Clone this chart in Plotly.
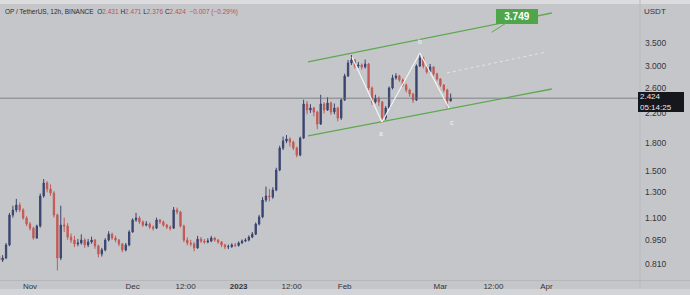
import math
import pandas as pd
import plotly.graph_objects as go

# ---------------- data (daily candles) ----------------
dates = pd.date_range('2022-10-23', periods=133, freq='D')

opens = [
    0.850, 0.831, 0.842, 0.918, 1.119, 1.157, 1.196, 1.157, 1.097, 1.054,
    1.026, 0.961, 1.040, 1.269, 1.383, 1.329, 1.294, 1.119, 0.842, 1.047,
    1.040, 0.967, 0.948, 0.924, 0.930, 0.948, 0.918, 0.936, 0.948, 0.912,
    0.865, 0.888, 0.948, 0.986, 0.961, 0.948, 0.924, 0.888, 0.918, 1.000,
    1.083, 1.097, 1.069, 1.047, 1.054, 1.033, 1.026, 1.083, 1.069, 1.047,
    1.033, 1.026, 1.157, 1.142, 1.040, 0.948, 0.930, 0.924, 0.900, 0.954,
    0.942, 0.936, 0.942, 0.961, 0.948, 0.936, 0.918, 0.906, 0.908, 0.918,
    0.915, 0.930, 0.942, 0.948, 0.967, 0.986, 1.054, 1.105, 1.236, 1.269,
    1.261, 1.320, 1.507, 1.743, 1.826, 1.850, 1.814, 1.743, 1.664, 1.862,
    2.332, 2.242, 2.272, 2.213, 2.043, 2.332, 2.242, 2.348, 2.213, 2.272,
    2.126, 2.395, 2.808, 3.059, 3.122, 2.999, 3.019, 2.979, 3.039, 2.593,
    2.364, 2.427, 2.364, 2.126, 2.272, 2.593, 2.772, 2.808, 2.734, 2.645,
    2.559, 2.492, 2.395, 2.999, 3.164, 2.999, 2.884, 2.979, 2.846, 2.752,
    2.645, 2.559, 2.379,
]
highs = [
    0.862, 0.858, 0.930, 1.135, 1.190, 1.245, 1.215, 1.170, 1.110, 1.068,
    1.035, 1.050, 1.290, 1.420, 1.400, 1.370, 1.310, 1.130, 1.190, 1.100,
    1.060, 0.990, 0.975, 0.955, 0.985, 0.960, 0.955, 0.970, 0.955, 0.920,
    0.900, 0.960, 1.005, 0.995, 0.975, 0.955, 0.930, 0.930, 1.012, 1.095,
    1.135, 1.110, 1.080, 1.075, 1.065, 1.045, 1.100, 1.090, 1.078, 1.055,
    1.045, 1.180, 1.175, 1.150, 1.050, 0.965, 0.950, 0.935, 0.975, 0.968,
    0.955, 0.960, 0.975, 0.968, 0.955, 0.942, 0.925, 0.920, 0.928, 0.930,
    0.940, 0.952, 0.960, 0.978, 1.000, 1.065, 1.120, 1.260, 1.350, 1.330,
    1.345, 1.530, 1.770, 1.880, 1.900, 1.870, 1.830, 1.760, 1.880, 2.400,
    2.380, 2.330, 2.290, 2.230, 2.480, 2.360, 2.440, 2.370, 2.340, 2.290,
    2.420, 2.850, 3.120, 3.226, 3.140, 3.080, 3.050, 3.130, 3.060, 2.620,
    2.480, 2.450, 2.380, 2.300, 2.620, 2.830, 2.860, 2.830, 2.760, 2.670,
    2.580, 2.510, 3.030, 3.260, 3.190, 3.020, 3.040, 3.000, 2.870, 2.770,
    2.660, 2.580, 2.500,
]
lows = [
    0.815, 0.820, 0.836, 0.910, 1.100, 1.140, 1.140, 1.085, 1.040, 1.010,
    0.950, 0.955, 1.030, 1.255, 1.300, 1.270, 1.100, 0.775, 0.830, 1.000,
    0.950, 0.930, 0.905, 0.910, 0.920, 0.900, 0.905, 0.925, 0.895, 0.845,
    0.850, 0.880, 0.940, 0.950, 0.935, 0.910, 0.875, 0.880, 0.910, 0.995,
    1.070, 1.055, 1.035, 1.038, 1.020, 1.010, 1.020, 1.055, 1.035, 1.020,
    1.010, 1.020, 1.125, 1.030, 0.935, 0.915, 0.910, 0.880, 0.895, 0.930,
    0.925, 0.928, 0.935, 0.938, 0.925, 0.905, 0.893, 0.893, 0.900, 0.905,
    0.908, 0.925, 0.935, 0.940, 0.960, 0.980, 1.045, 1.095, 1.220, 1.225,
    1.245, 1.310, 1.495, 1.720, 1.800, 1.760, 1.720, 1.640, 1.650, 1.850,
    2.180, 2.200, 2.150, 1.975, 2.030, 2.190, 2.230, 2.170, 2.180, 2.080,
    2.100, 2.380, 2.790, 3.020, 2.950, 2.960, 2.930, 2.950, 2.560, 2.320,
    2.340, 2.300, 2.060, 2.100, 2.260, 2.570, 2.740, 2.700, 2.610, 2.520,
    2.450, 2.350, 2.380, 2.980, 2.950, 2.850, 2.860, 2.810, 2.720, 2.610,
    2.520, 2.280, 2.376,
]
closes = [
    0.831, 0.842, 0.918, 1.119, 1.157, 1.196, 1.157, 1.097, 1.054, 1.026,
    0.961, 1.040, 1.269, 1.383, 1.329, 1.294, 1.119, 0.842, 1.047, 1.040,
    0.967, 0.948, 0.924, 0.930, 0.948, 0.918, 0.936, 0.948, 0.912, 0.865,
    0.888, 0.948, 0.986, 0.961, 0.948, 0.924, 0.888, 0.918, 1.000, 1.083,
    1.097, 1.069, 1.047, 1.054, 1.033, 1.026, 1.083, 1.069, 1.047, 1.033,
    1.026, 1.157, 1.142, 1.040, 0.948, 0.930, 0.924, 0.900, 0.954, 0.942,
    0.936, 0.942, 0.961, 0.948, 0.936, 0.918, 0.906, 0.908, 0.918, 0.915,
    0.930, 0.942, 0.948, 0.967, 0.986, 1.054, 1.105, 1.236, 1.269, 1.261,
    1.320, 1.507, 1.743, 1.826, 1.850, 1.814, 1.743, 1.664, 1.862, 2.332,
    2.242, 2.272, 2.213, 2.043, 2.332, 2.242, 2.348, 2.213, 2.272, 2.126,
    2.395, 2.808, 3.059, 3.122, 2.999, 3.019, 2.979, 3.039, 2.593, 2.364,
    2.427, 2.364, 2.126, 2.272, 2.593, 2.772, 2.808, 2.734, 2.645, 2.559,
    2.492, 2.395, 2.999, 3.164, 2.999, 2.884, 2.979, 2.846, 2.752, 2.645,
    2.559, 2.379, 2.424,
]

# drawings on the chart
upper_x = ['2023-01-21 07:00', '2023-04-02 14:00']
upper_y = [3.081, 4.259]
lower_x = ['2023-01-21 07:00', '2023-04-02 14:00']
lower_y = [1.888, 2.576]
zigzag_x = ['2023-02-03 03:30', '2023-02-11 22:00', '2023-02-23 00:00', '2023-03-03 12:00']
zigzag_y = [3.184, 2.070, 3.269, 2.272]
dotted_x = ['2023-03-02 22:00', '2023-04-01 00:00']
dotted_y = [2.865, 3.290]
wave_labels = ['a', 'b', 'c']
wave_x = ['2023-02-11 14:00', '2023-02-23 00:00', '2023-03-04 09:00']
wave_y = [1.913, 3.539, 2.070]
target_price = 3.749
target_x = '2023-03-16 00:00'
last_price = 2.424
countdown = '05:14:25'

x_range = ['2022-10-23 05:30', '2023-04-28 08:40']
x_tickvals = ['2022-11-01', '2022-12-01', '2022-12-16 12:00', '2023-01-01',
              '2023-01-16 12:00', '2023-02-01', '2023-03-01', '2023-03-16 12:00', '2023-04-01']
x_ticktext = ['Nov', 'Dec', '12:00', '<b>2023</b>', '12:00', 'Feb', 'Mar', '12:00', 'Apr']
y_tickvals = [0.81, 0.95, 1.1, 1.3, 1.5, 1.8, 2.2, 2.6, 3.0, 3.5]
y_ticktext = ['0.810', '0.950', '1.100', '1.300', '1.500', '1.800', '2.200', '2.600', '3.000', '3.500']

# ---------------- styling ----------------
BG = '#c5c6ca'
UP = '#3a4570'
DN = '#c25a55'
GREEN = '#5ea94f'
TXT = '#34353a'
FONT = 'Liberation Sans, Arial, sans-serif'

fig = go.Figure()

fig.add_trace(go.Scatter(x=x_range, y=[last_price, last_price], mode='lines',
                         line=dict(color='#707177', width=0.8), hoverinfo='skip'))

fig.add_trace(go.Candlestick(
    x=dates, open=opens, high=highs, low=lows, close=closes,
    increasing=dict(line=dict(color=UP, width=1), fillcolor=UP),
    decreasing=dict(line=dict(color=DN, width=1), fillcolor=DN),
    whiskerwidth=0, hoverinfo='skip'))

fig.add_trace(go.Scatter(x=upper_x, y=upper_y, mode='lines',
                         line=dict(color=GREEN, width=1.3), hoverinfo='skip'))
fig.add_trace(go.Scatter(x=lower_x, y=lower_y, mode='lines',
                         line=dict(color=GREEN, width=1.3), hoverinfo='skip'))
fig.add_trace(go.Scatter(x=dotted_x, y=dotted_y, mode='lines',
                         line=dict(color='#e4e4e6', width=1, dash='dot'), hoverinfo='skip'))
fig.add_trace(go.Scatter(x=zigzag_x, y=zigzag_y, mode='lines',
                         line=dict(color='#f4f4f4', width=1.2), hoverinfo='skip'))

annotations = []
for t, xx, yy in zip(wave_labels, wave_x, wave_y):
    annotations.append(dict(x=xx, y=math.log10(yy), xref='x', yref='y', text=t,
                            showarrow=False, font=dict(size=7, color='#f2f2f2', family=FONT)))

annotations.append(dict(
    x=target_x, y=math.log10(target_price), xref='x', yref='y',
    text='<b>%.3f</b>' % target_price, showarrow=True, arrowhead=0, arrowwidth=1,
    arrowcolor=GREEN, ax=25, ay=-16, bgcolor='#4fa64a', bordercolor='#4fa64a',
    borderpad=1, width=38, height=11, font=dict(size=10, color='white', family=FONT)))

annotations.append(dict(
    x=1, xref='paper', xanchor='left', xshift=-2,
    y=math.log10(last_price), yref='y', yanchor='top', yshift=6,
    text='%.3f<br>%s' % (last_price, countdown), showarrow=False, align='left',
    bgcolor='#15171c', bordercolor='#15171c', borderpad=1, width=42, height=16,
    font=dict(size=8, color='#e8e8ea', family=FONT)))

annotations.append(dict(
    x=1, xref='paper', xanchor='left', xshift=2, y=1 + (8 - 12) / 272.0, yref='paper',
    yanchor='middle', text='USDT', showarrow=False,
    font=dict(size=8, color=TXT, family=FONT)))

red = '#b9524f'
hdr = ('<span style="color:#2a2b30">OP / TetherUS, 12h, BINANCE  O</span>'
       '<span style="color:%s">2.431</span>'
       '<span style="color:#2a2b30"> H</span><span style="color:%s">2.471</span>'
       '<span style="color:#2a2b30"> L</span><span style="color:%s">2.376</span>'
       '<span style="color:#2a2b30"> C</span><span style="color:%s">2.424  \u22120.007 (\u22120.29%%)</span>'
       ) % (red, red, red, red)
annotations.append(dict(
    x=0, xref='paper', xanchor='left', xshift=3, y=1 + (8 - 12) / 272.0, yref='paper',
    yanchor='middle', text=hdr, showarrow=False, font=dict(size=6.5, family=FONT)))

shapes = [
    dict(type='rect', xref='paper', yref='paper', x0=0, x1=690 / 640.0,
         y0=1 + 4 / 272.0, y1=1 + 8 / 272.0, fillcolor='#dcdcde', line=dict(width=0), layer='below'),
    dict(type='rect', xref='paper', yref='paper', x0=0, x1=690 / 640.0,
         y0=-15 / 272.0, y1=-9 / 272.0, fillcolor='#d3d4d7', line=dict(width=0), layer='below'),
    dict(type='line', xref='paper', yref='paper', x0=0, x1=690 / 640.0, y0=-0.5 / 272.0, y1=-0.5 / 272.0,
         line=dict(color='#b6b7bb', width=1)),
    dict(type='line', xref='paper', yref='paper', x0=1, x1=1, y0=-9 / 272.0, y1=1 + 8 / 272.0,
         line=dict(color='#b9babe', width=1)),
]

fig.update_layout(
    width=690, height=295, margin=dict(l=0, r=50, t=8, b=15),
    paper_bgcolor=BG, plot_bgcolor=BG, showlegend=False,
    font=dict(family=FONT, color=TXT),
    annotations=annotations, shapes=shapes, boxgap=0.45,
    xaxis=dict(type='date', range=x_range, tickvals=x_tickvals, ticktext=x_ticktext,
               showgrid=False, zeroline=False, showline=False, ticks='',
               tickfont=dict(size=8, color=TXT, family=FONT), rangeslider=dict(visible=False),
               automargin=False, fixedrange=True, ticklabelstandoff=0),
    yaxis=dict(type='log', side='right', range=[-0.1379, 0.6437],
               tickvals=y_tickvals, ticktext=y_ticktext, showgrid=False, zeroline=False,
               showline=False, ticks='', tickfont=dict(size=8.5, color=TXT, family=FONT),
               ticklabelstandoff=4, automargin=False, fixedrange=True),
)

fig.write_html('out.html')
